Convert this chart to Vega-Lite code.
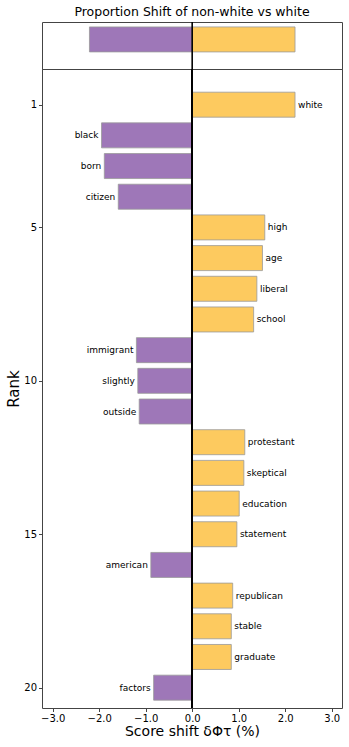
{
  "$schema": "https://vega.github.io/schema/vega-lite/v6.json",
  "background": "white",
  "padding": {"left": 6, "right": 5, "top": 5, "bottom": 2},
  "spacing": 0,
  "bounds": "flush",
  "config": {
    "font": "DejaVu Sans",
    "view": {"stroke": "#444", "strokeWidth": 1},
    "axis": {"grid": false, "domain": false, "tickColor": "#444", "tickSize": 3.5, "labelColor": "black", "titleColor": "black", "labelFont": "DejaVu Sans", "titleFont": "DejaVu Sans", "titleFontWeight": "normal"},
    "title": {"font": "DejaVu Sans", "fontWeight": "normal", "fontSize": 12.5, "color": "black"}
  },
  "datasets": {
    "total": [
      {"group": "non-white", "value": -2.21, "row": 0},
      {"group": "white", "value": 2.21, "row": 0}
    ],
    "words": [
      {"rank": 1, "word": "white", "value": 2.21, "group": "white"},
      {"rank": 2, "word": "black", "value": -1.95, "group": "non-white"},
      {"rank": 3, "word": "born", "value": -1.89, "group": "non-white"},
      {"rank": 4, "word": "citizen", "value": -1.59, "group": "non-white"},
      {"rank": 5, "word": "high", "value": 1.56, "group": "white"},
      {"rank": 6, "word": "age", "value": 1.51, "group": "white"},
      {"rank": 7, "word": "liberal", "value": 1.39, "group": "white"},
      {"rank": 8, "word": "school", "value": 1.32, "group": "white"},
      {"rank": 9, "word": "immigrant", "value": -1.2, "group": "non-white"},
      {"rank": 10, "word": "slightly", "value": -1.17, "group": "non-white"},
      {"rank": 11, "word": "outside", "value": -1.14, "group": "non-white"},
      {"rank": 12, "word": "protestant", "value": 1.13, "group": "white"},
      {"rank": 13, "word": "skeptical", "value": 1.11, "group": "white"},
      {"rank": 14, "word": "education", "value": 1.01, "group": "white"},
      {"rank": 15, "word": "statement", "value": 0.96, "group": "white"},
      {"rank": 16, "word": "american", "value": -0.89, "group": "non-white"},
      {"rank": 17, "word": "republican", "value": 0.87, "group": "white"},
      {"rank": 18, "word": "stable", "value": 0.84, "group": "white"},
      {"rank": 19, "word": "graduate", "value": 0.84, "group": "white"},
      {"rank": 20, "word": "factors", "value": -0.83, "group": "non-white"}
    ]
  },
  "vconcat": [
    {
      "title": {"text": "Proportion Shift of non-white vs white", "offset": 3},
      "width": 300,
      "height": 47,
      "data": {"name": "total"},
      "layer": [
        {
          "mark": {"type": "bar", "orient": "horizontal", "size": 25, "stroke": "#999", "strokeWidth": 0.8},
          "encoding": {
            "x": {"field": "value", "type": "quantitative", "scale": {"domain": [-3.23, 3.22], "nice": false, "zero": false}, "axis": null},
            "y": {"field": "row", "type": "quantitative", "scale": {"domain": [-0.5, 0.99], "reverse": true, "nice": false, "zero": false}, "axis": null},
            "color": {"field": "group", "type": "nominal", "scale": {"domain": ["non-white", "white"], "range": ["#9e77b8", "#fdca5f"]}, "legend": null}
          }
        },
        {
          "mark": {"type": "rule", "color": "black", "strokeWidth": 1.2},
          "encoding": {"x": {"datum": 0, "type": "quantitative"}}
        }
      ]
    },
    {
      "width": 300,
      "height": 639,
      "data": {"name": "words"},
      "layer": [
        {
          "mark": {"type": "bar", "orient": "horizontal", "size": 25, "stroke": "#999", "strokeWidth": 0.8},
          "encoding": {
            "x": {"field": "value", "type": "quantitative", "scale": {"domain": [-3.23, 3.22], "nice": false, "zero": false},
              "axis": {"values": [-3, -2, -1, 0, 1, 2, 3], "format": ".1f", "title": "Score shift δΦτ (%)", "titleFontSize": 14, "labelFontSize": 10, "titlePadding": 1, "labelPadding": 2}},
            "y": {"field": "rank", "type": "quantitative", "scale": {"domain": [0, 20.5], "reverse": true, "nice": false, "zero": false},
              "axis": {"values": [1, 5, 10, 15, 20], "title": "Rank", "titleFontSize": 15, "labelFontSize": 10, "titlePadding": 2, "labelPadding": 2}},
            "color": {"field": "group", "type": "nominal", "scale": {"domain": ["non-white", "white"], "range": ["#9e77b8", "#fdca5f"]}, "legend": null}
          }
        },
        {
          "transform": [{"filter": "datum.value > 0"}],
          "mark": {"type": "text", "align": "left", "baseline": "middle", "dx": 3, "fontSize": 9, "color": "black"},
          "encoding": {
            "x": {"field": "value", "type": "quantitative"},
            "y": {"field": "rank", "type": "quantitative"},
            "text": {"field": "word"}
          }
        },
        {
          "transform": [{"filter": "datum.value < 0"}],
          "mark": {"type": "text", "align": "right", "baseline": "middle", "dx": -3, "fontSize": 9, "color": "black"},
          "encoding": {
            "x": {"field": "value", "type": "quantitative"},
            "y": {"field": "rank", "type": "quantitative"},
            "text": {"field": "word"}
          }
        },
        {
          "mark": {"type": "rule", "color": "black", "strokeWidth": 1.2},
          "encoding": {"x": {"datum": 0, "type": "quantitative"}}
        }
      ]
    }
  ]
}
